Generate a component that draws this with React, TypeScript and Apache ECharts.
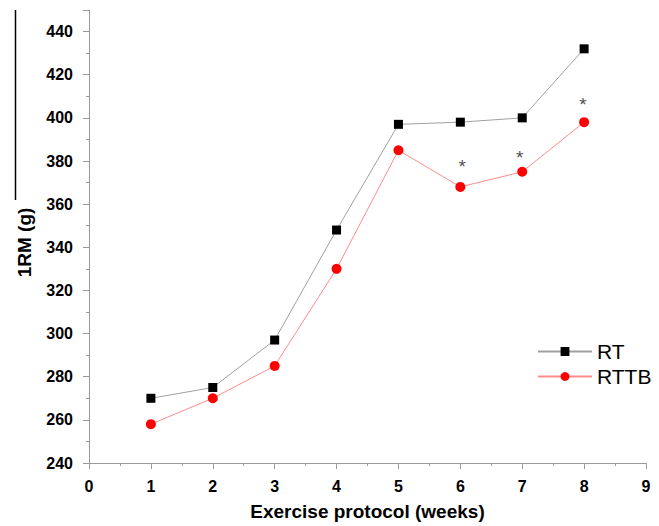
import React, { useEffect, useRef } from "react";
import * as echarts from "echarts";

const weeks = [1, 2, 3, 4, 5, 6, 7, 8];
const rtValues = [270, 275, 297, 348, 397, 398, 400, 432];
const rttbValues = [258, 270, 285, 330, 385, 368, 375, 398];
const starWeeks = [6.03, 6.96, 7.98];
const starValues = [377.5, 381.7, 406.2];

export default function App() {
  const ref = useRef<HTMLDivElement>(null);
  useEffect(() => {
    if (!ref.current) return;
    const chart = echarts.init(ref.current, undefined, { renderer: "svg" });
    const font = "'Liberation Sans', Arial, sans-serif";
    const axisColor = "#9a9a9a";
    chart.setOption({
      animation: false,
      backgroundColor: "#ffffff",
      textStyle: { fontFamily: font },
      grid: { left: 89, right: 13, top: 10, bottom: 62 },
      legend: {
        left: 532,
        top: 336,
        orient: "vertical",
        itemWidth: 54,
        itemHeight: 11,
        itemGap: 4,
        textStyle: { fontSize: 21, color: "#000", fontFamily: font },
        data: ["RT", "RTTB"],
      },
      xAxis: {
        type: "value",
        min: 0,
        max: 9,
        interval: 1,
        name: "Exercise protocol (weeks)",
        nameLocation: "middle",
        nameGap: 39,
        nameTextStyle: { fontSize: 19, fontWeight: "bold", color: "#000", fontFamily: font },
        axisLine: { lineStyle: { color: axisColor, width: 1 } },
        axisTick: { show: true, length: 6, lineStyle: { color: axisColor } },
        minorTick: { show: true, splitNumber: 2, length: 3, lineStyle: { color: axisColor } },
        axisLabel: { fontSize: 16, fontWeight: "bold", color: "#000", margin: 15, fontFamily: font },
        splitLine: { show: false },
      },
      yAxis: {
        type: "value",
        min: 240,
        max: 450,
        interval: 20,
        name: "1RM (g)",
        nameLocation: "middle",
        nameGap: 55,
        nameTextStyle: {
          fontSize: 19,
          fontWeight: "bold",
          color: "#000",
          fontFamily: font,
          padding: [0, 12, 0, 0],
        },
        axisLine: { show: true, lineStyle: { color: axisColor, width: 1 } },
        axisTick: { show: true, length: 6, lineStyle: { color: axisColor } },
        minorTick: { show: true, splitNumber: 2, length: 3, lineStyle: { color: axisColor } },
        axisLabel: { fontSize: 16, fontWeight: "bold", color: "#000", margin: 16, showMaxLabel: false, fontFamily: font },
        splitLine: { show: false },
      },
      graphic: [
        {
          type: "line",
          shape: { x1: 15.5, y1: 10, x2: 15.5, y2: 200 },
          style: { stroke: "#000", lineWidth: 1.5 },
        },
      ],
      series: [
        {
          name: "RT",
          type: "line",
          data: weeks.map((w, i) => [w, rtValues[i]]),
          symbol: "rect",
          symbolSize: 9,
          itemStyle: { color: "#000" },
          lineStyle: { color: "#a0a0a0", width: 1 },
          z: 3,
        },
        {
          name: "RTTB",
          type: "line",
          data: weeks.map((w, i) => [w, rttbValues[i]]),
          symbol: "circle",
          symbolSize: 10,
          itemStyle: { color: "#ff0000" },
          lineStyle: { color: "#ff8c8c", width: 1 },
          z: 3,
        },
        {
          name: "stars",
          type: "scatter",
          data: starWeeks.map((w, i) => [w, starValues[i]]),
          symbol: "circle",
          symbolSize: 1,
          itemStyle: { color: "rgba(0,0,0,0)" },
          silent: true,
          label: {
            show: true,
            position: "inside",
            formatter: "*",
            fontSize: 19,
            color: "#1a1a1a",
            fontFamily: font,
          },
        },
      ],
    });
    return () => chart.dispose();
  }, []);
  return <div ref={ref} style={{ width: 659, height: 526, position: "absolute", left: 0, top: 0 }} />;
}
